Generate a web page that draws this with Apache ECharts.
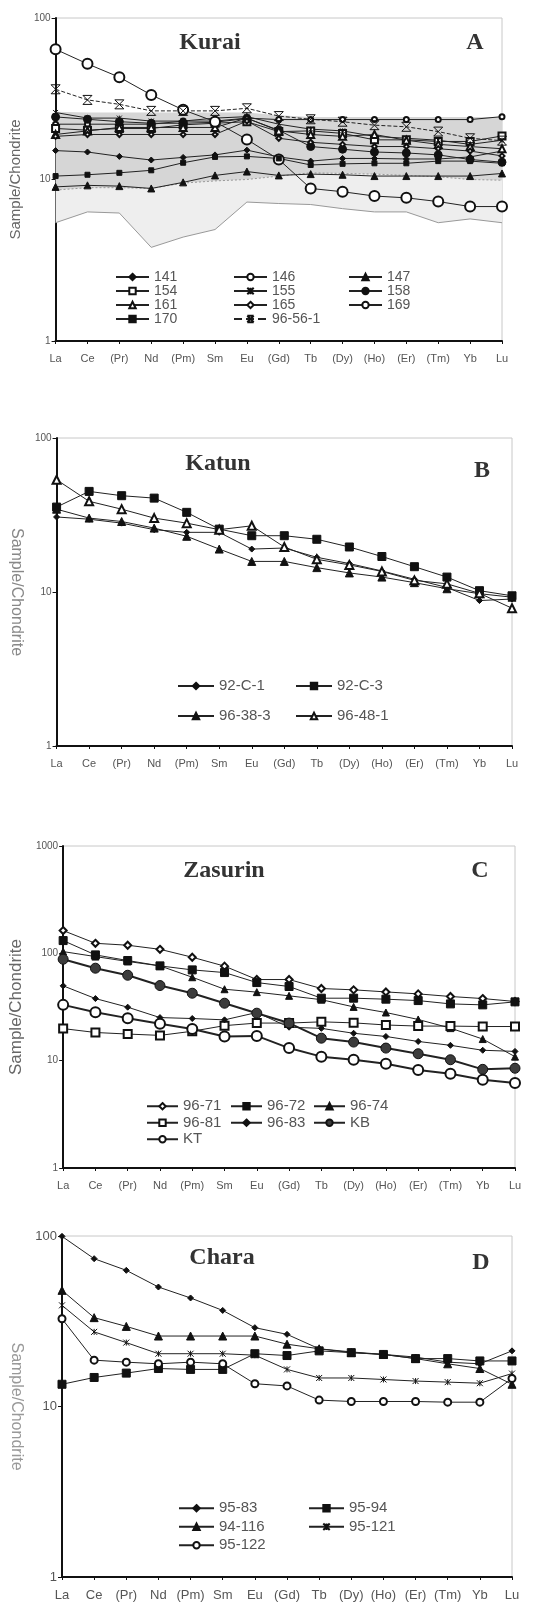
<!DOCTYPE html>
<html>
<head>
<meta charset="utf-8">
<script src="https://cdn.jsdelivr.net/npm/echarts@6/dist/echarts.min.js"></script>
<style>
  html, body { margin: 0; padding: 0; background: #fff; }
  #chart { width: 540px; height: 1603px; }
</style>
</head>
<body>
<div id="chart"></div>
<script>
// REE categories (shared by all four panels)
const cats = ['La', 'Ce', '(Pr)', 'Nd', '(Pm)', 'Sm', 'Eu', '(Gd)', 'Tb', '(Dy)', '(Ho)', '(Er)', '(Tm)', 'Yb', 'Lu'];

// A - Kurai
const a141 = [15.1, 14.8, 13.9, 13.2, 13.7, 14.2, 15.2, 13.8, 13.0, 13.5, 13.5, 13.4, 13.4, 13.8, 15.0];
const a146 = [22, 22, 22, 22, 23, 23, 24, 23.5, 23.5, 23.5, 23.5, 23.5, 23.5, 23.5, 24.5];
const a147 = [9.0, 9.2, 9.1, 8.8, 9.6, 10.6, 11.2, 10.6, 10.8, 10.7, 10.5, 10.5, 10.5, 10.5, 10.9];
const a154 = [20.7, 20.2, 20.7, 20.7, 21.8, 22.3, 22.8, 19.8, 20, 19.3, 17.6, 17.6, 17.2, 17.2, 18.6];
const a155 = [26, 24, 24, 23, 23, 24, 24.5, 22, 20.5, 20, 18.5, 18, 17.5, 16.5, 17.5];
const a158 = [24.4, 23.6, 22.8, 22.3, 22.3, 22.6, 23.9, 20.2, 16, 15.4, 14.8, 14.6, 14.2, 13.3, 12.8];
const a161 = [19, 20, 21, 21, 21, 21, 24, 20, 19, 18.5, 19, 17.5, 16.5, 16, 15.5];
const a165 = [18.5, 19, 19, 19, 19, 19, 23, 18, 17, 16.5, 16, 16, 15.5, 15, 14];
const a169 = [64, 52, 43, 33.4, 27, 22.8, 17.7, 13.3, 8.8, 8.4, 7.9, 7.7, 7.3, 6.8, 6.8];
const a170 = [10.5, 10.7, 11.0, 11.4, 12.7, 13.8, 13.9, 13.5, 12.3, 12.5, 12.6, 12.6, 13.0, 13.0, 12.6];
const a96561 = [36.2, 31.1, 29.2, 26.6, 26.6, 26.6, 27.6, 24.7, 23.6, 22.8, 21.7, 21.2, 19.8, 18.0, 17.4];
// shaded fields in A
const darkUpper = [26.3, 26, 26, 26, 26, 26, 26, 25, 24.4, 24.4, 24.4, 24.4, 24.4, 24.4, 24.4];
const darkLower = [8.6, 8.9, 8.9, 8.8, 9.5, 9.8, 10, 10.5, 11, 10.9, 10.8, 10.6, 10.4, 10.0, 9.9];
const lightLower = [5.4, 6.3, 6.2, 3.8, 4.4, 4.9, 7.25, 7.1, 7.0, 6.6, 6.3, 6.3, 5.4, 5.7, 5.4];

// B - Katun
const b921 = [30.7, 29.7, 28.0, 25.4, 24.4, 24.4, 19.0, 19.3, 16.8, 15.3, 13.7, 12.1, 10.7, 8.8, 9.0];
const b923 = [35.6, 45.0, 42.2, 40.7, 32.9, 25.6, 23.2, 23.2, 22.0, 19.6, 17.0, 14.6, 12.5, 10.2, 9.45];
const b9638 = [34.5, 30.2, 28.7, 26.0, 23.0, 19.0, 15.8, 15.8, 14.4, 13.3, 12.5, 11.5, 10.5, 9.75, 9.25];
const b9648 = [53.6, 38.8, 34.5, 30.2, 28.0, 25.4, 26.9, 19.6, 16.3, 15.0, 13.6, 11.9, 11.3, 9.8, 7.85];

// C - Zasurin
const c71 = [163, 124, 119, 109, 92, 76, 57, 57, 47, 45.7, 43.7, 41.9, 39.6, 37.9, 35.6];
const c72 = [131.5, 96.7, 85.7, 76.4, 70.1, 66.2, 53.4, 49.1, 38.2, 38.2, 37.4, 36.3, 33.8, 33.1, 35.3];
const c74 = [103.8, 93.3, 84.0, 76.4, 59.9, 46.3, 43.5, 40.2, 37, 31.7, 28.1, 24.2, 20.1, 15.9, 10.9];
const c81 = [19.9, 18.3, 17.7, 17.2, 18.8, 21.2, 22.4, 22.4, 23, 22.5, 21.5, 21, 21, 20.8, 20.8];
const c83 = [49.8, 37.9, 31.5, 25.2, 24.7, 24.0, 28.1, 20.5, 20.0, 18.0, 16.8, 15.1, 13.9, 12.5, 12.2];
const cKB = [88.1, 72.7, 62.5, 50.1, 42.5, 34.3, 27.7, 22.4, 16.2, 14.9, 13.1, 11.6, 10.2, 8.3, 8.5];
const cKT = [33.1, 28.3, 24.9, 22.1, 19.7, 16.8, 17.0, 13.1, 10.9, 10.2, 9.35, 8.2, 7.55, 6.64, 6.18];

// D - Chara
const d9583 = [99.5, 73.6, 62.9, 50.2, 43.3, 36.6, 29.0, 26.5, 21.8, 20.9, 20.2, 19.5, 18.2, 17.8, 21.2];
const d9594 = [13.5, 14.8, 15.7, 16.7, 16.5, 16.5, 20.4, 19.9, 21.2, 20.7, 20.2, 19.1, 19.1, 18.5, 18.5];
const d94116 = [48.0, 33.2, 29.5, 25.9, 25.9, 25.9, 25.9, 23.2, 21.8, 20.7, 20.2, 19.1, 17.8, 16.7, 13.5];
const d95121 = [39.2, 27.4, 23.7, 20.4, 20.4, 20.4, 20.0, 16.5, 14.7, 14.7, 14.4, 14.1, 13.9, 13.7, 15.6];
const d95122 = [32.7, 18.7, 18.2, 17.8, 18.2, 17.8, 13.6, 13.2, 10.9, 10.7, 10.7, 10.7, 10.6, 10.6, 14.6];

const SANS = 'Liberation Sans, Arial, sans-serif';
const SERIF = 'Liberation Serif, Times New Roman, serif';
const XSTAR = 'path://M0,0L10,10M10,0L0,10M0,0L10,0M0,10L10,10';
const STAR = 'path://M0,0L10,10M10,0L0,10M5,0L5,10';

function line(name, data, gi, symbol, size, extra) {
  extra = extra || {};
  const isPath = symbol.indexOf('path') === 0;
  return {
    name: name, type: 'line', data: data,
    xAxisIndex: gi, yAxisIndex: gi,
    symbol: symbol, symbolSize: size, showAllSymbol: true,
    lineStyle: { color: '#222', width: extra.lw || 1, type: extra.dash ? 'dashed' : 'solid' },
    itemStyle: {
      color: isPath ? 'transparent' : (extra.fill || '#111'),
      borderColor: '#111', borderWidth: extra.bw || 1
    },
    emphasis: { disabled: true },
    animation: false, z: 3
  };
}

function band(upper, lower, fill, edge, dotted) {
  return {
    type: 'custom', xAxisIndex: 0, yAxisIndex: 0, data: [[0, 10]], z: 1, silent: true,
    renderItem: function (params, api) {
      const top = [], bot = [];
      for (let i = 0; i < cats.length; i++) top.push(api.coord([i, upper[i]]));
      for (let i = 0; i < cats.length; i++) bot.push(api.coord([i, lower[i]]));
      return {
        type: 'group',
        children: [
          { type: 'polygon', shape: { points: top.concat(bot.slice().reverse()) }, style: { fill: fill } },
          { type: 'polyline', shape: { points: bot }, style: { fill: null, stroke: edge, lineWidth: 1, lineDash: dotted ? [2, 2] : null } }
        ]
      };
    }
  };
}

const grids = [
  { left: 52, top: 18, width: 450, height: 323 },
  { left: 51, top: 438, width: 461, height: 308 },
  { left: 49, top: 846, width: 466, height: 322 },
  { left: 57, top: 1236, width: 455, height: 341 }
].map(g => Object.assign(g, { show: true, borderColor: '#c8c8c8', borderWidth: 1, backgroundColor: 'transparent' }));

const labFs = [11, 11, 11, 13];
const xAxes = grids.map((g, i) => ({
  type: 'category', gridIndex: i, data: cats, boundaryGap: false,
  axisLine: { lineStyle: { color: '#111', width: 2 } },
  axisTick: { show: true, length: 3, lineStyle: { color: '#111' } },
  axisLabel: { color: '#555', fontSize: labFs[i], fontFamily: SANS, margin: 12, interval: 0 },
  splitLine: { show: false }
}));

const yMax = [100, 100, 1000, 100];
const nameGap = [20, 30, 22, 38];
const nameRot = [90, -90, 90, -90];
const nameFs = [15, 16, 17, 16];
const nameCol = ['#666', '#888', '#666', '#999'];
const yAxes = grids.map((g, i) => ({
  type: 'log', logBase: 10, gridIndex: i, min: 1, max: yMax[i],
  axisLine: { show: true, lineStyle: { color: '#111', width: 2 } },
  axisTick: { show: true, length: 4, lineStyle: { color: '#111' } },
  axisLabel: { color: '#555', fontSize: i === 3 ? 13 : 10, fontFamily: SANS, margin: 5,
    formatter: v => String(Math.round(v)) },
  splitLine: { show: false }, minorTick: { show: false },
  name: 'Sample/Chondrite', nameLocation: 'middle', nameGap: nameGap[i], nameRotate: nameRot[i],
  nameTextStyle: { color: nameCol[i], fontSize: nameFs[i], fontFamily: SANS }
}));

function leg(names, left, top, rowH, itemW, fs) {
  return {
    data: names, orient: 'vertical', left: left, top: top, padding: 0,
    itemWidth: itemW, itemHeight: 8, itemGap: 0, selectedMode: false,
    textStyle: { fontSize: fs, color: '#555', fontFamily: SANS, lineHeight: rowH, height: rowH }
  };
}

const series = [
  band(darkLower, lightLower, '#eeeeee', '#999', false),
  band(darkUpper, darkLower, '#d6d6d6', '#999', true),
  line('141', a141, 0, 'diamond', 6),
  line('146', a146, 0, 'emptyCircle', 5),
  line('147', a147, 0, 'triangle', 7),
  line('154', a154, 0, 'emptyRect', 7),
  line('155', a155, 0, STAR, 5),
  line('158', a158, 0, 'circle', 8),
  line('161', a161, 0, 'emptyTriangle', 7),
  line('165', a165, 0, 'emptyDiamond', 5),
  line('169', a169, 0, 'emptyCircle', 10),
  line('170', a170, 0, 'rect', 5),
  line('96-56-1', a96561, 0, XSTAR, 9, { dash: true }),

  line('92-C-1', b921, 1, 'diamond', 6),
  line('92-C-3', b923, 1, 'rect', 8),
  line('96-38-3', b9638, 1, 'triangle', 8),
  line('96-48-1', b9648, 1, 'emptyTriangle', 8),

  line('96-71', c71, 2, 'emptyDiamond', 7),
  line('96-72', c72, 2, 'rect', 8),
  line('96-74', c74, 2, 'triangle', 7),
  line('96-81', c81, 2, 'emptyRect', 8),
  line('96-83', c83, 2, 'diamond', 6),
  line('KB', cKB, 2, 'circle', 10, { lw: 2, fill: '#3c3c3c' }),
  line('KT', cKT, 2, 'emptyCircle', 10, { lw: 2 }),

  line('95-83', d9583, 3, 'diamond', 6),
  line('95-94', d9594, 3, 'rect', 8),
  line('94-116', d94116, 3, 'triangle', 8),
  line('95-121', d95121, 3, STAR, 6),
  line('95-122', d95122, 3, 'emptyCircle', 7)
];

const legends = [
  leg(['141', '154', '161', '170'], 115, 270, 13.5, 33, 14),
  leg(['146', '155', '165', '96-56-1'], 233, 270, 13.5, 33, 14),
  leg(['147', '158', '169'], 348, 270, 13.5, 33, 14),
  leg(['92-C-1', '96-38-3'], 177, 671, 30, 36, 15),
  leg(['92-C-3', '96-48-1'], 295, 671, 30, 36, 15),
  leg(['96-71', '96-81', 'KT'], 146, 1098, 16.5, 31, 15),
  leg(['96-72', '96-83'], 230, 1098, 16.5, 31, 15),
  leg(['96-74', 'KB'], 313, 1098, 16.5, 31, 15),
  leg(['95-83', '94-116', '95-122'], 178, 1499, 18.5, 35, 15),
  leg(['95-94', '95-121'], 308, 1499, 18.5, 35, 15)
];

function label(text, x, y) {
  return { type: 'text', x: x, y: y, z: 10,
    style: { text: text, font: 'bold 24px ' + SERIF, fill: '#333', align: 'center', verticalAlign: 'middle' } };
}

const chart = echarts.init(document.getElementById('chart'));
chart.setOption({
  backgroundColor: '#fff',
  animation: false,
  grid: grids,
  xAxis: xAxes,
  yAxis: yAxes,
  legend: legends,
  series: series,
  graphic: [
    label('Kurai', 210, 43), label('A', 475, 43),
    label('Katun', 218, 464), label('B', 482, 471),
    label('Zasurin', 224, 871), label('C', 480, 871),
    label('Chara', 222, 1258), label('D', 481, 1263)
  ]
});
</script>
</body>
</html>
